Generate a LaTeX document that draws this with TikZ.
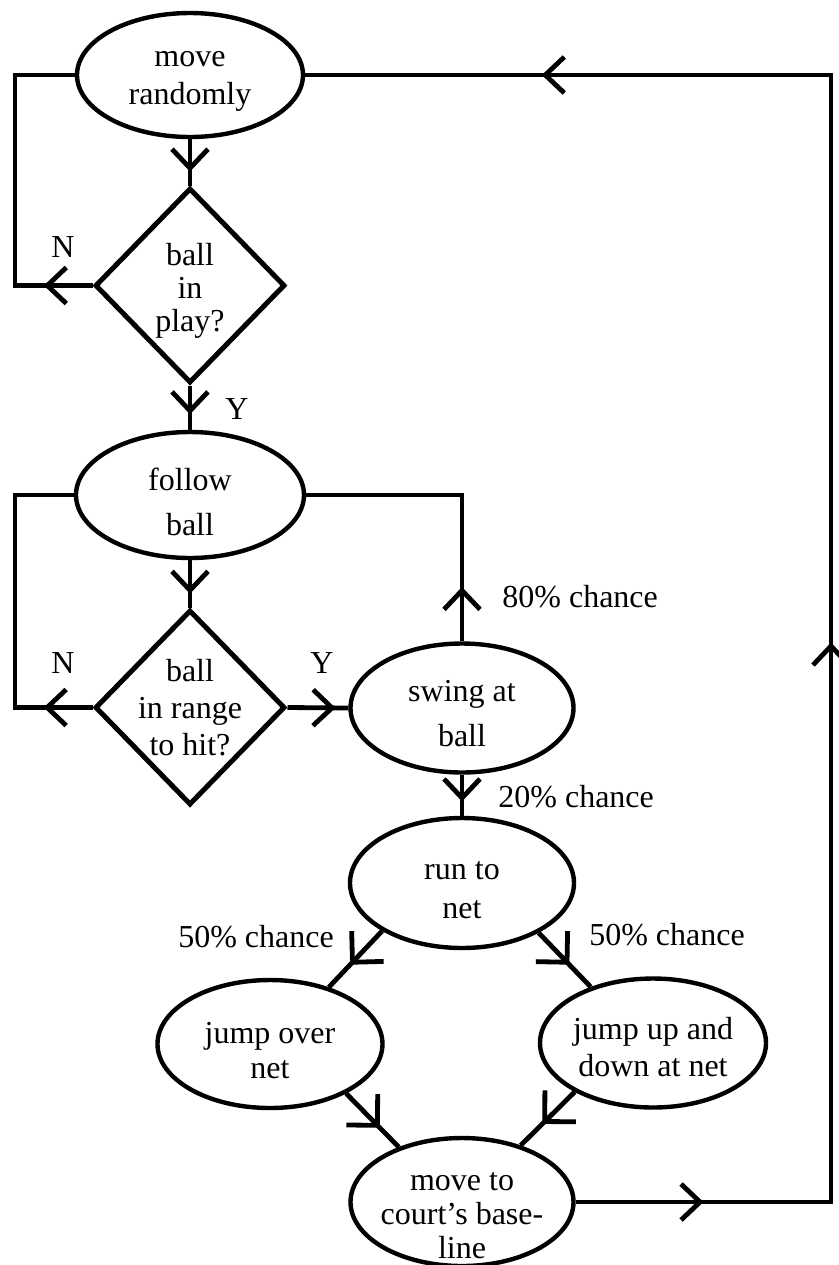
\documentclass[tikz,border=0pt]{standalone}
\usepackage{fontspec}
\setmainfont{Liberation Serif}
\usetikzlibrary{shapes.geometric,arrows.meta,decorations.markings}
\newcommand{\firstrow}[1]{\rule{0pt}{#1pt}}
\begin{document}
\begin{tikzpicture}[x=0.5pt, y=-0.5pt,
    every node/.style={font=\fontsize{16}{18.5}\selectfont, align=center},
    >={Straight Barb[length=9.5pt, width=18pt]},
    act/.style={ellipse, draw, line width=2.2pt, inner sep=-30pt},
    ask/.style={diamond, draw, line width=2.5pt, inner sep=-30pt, minimum width=95pt, minimum height=97.5pt},
    lbl/.style={inner sep=0pt},
    flow/.style={line width=2.4pt, decoration={markings, mark=at position #1 with {\arrow{>}}}, postaction={decorate}},
    slant/.style={line width=2.4pt, decoration={markings, mark=at position #1 with {\arrow{Straight Barb[length=11pt, width=22pt]}}}, postaction={decorate}}]
    \useasboundingbox (0,0) rectangle (839,1265);
    % steps and questions
    \node[act, minimum width=113pt, minimum height=62pt] (mr) at (190,75) {\firstrow{14}move\\[0.5pt]randomly};
    \node[ask, font=\fontsize{16}{16.5}\selectfont] (d1) at (190,285.5) {\firstrow{16}ball\\in\\play?};
    \node[act, minimum width=114pt, minimum height=63pt] (fb) at (190,495) {\firstrow{18}follow\\[4pt]ball};
    \node[ask] (d2) at (190,707.5) {ball\\in range\\to hit?};
    \node[act, minimum width=111.5pt, minimum height=64.5pt] (sw) at (462,708) {\firstrow{16}swing at\\[4pt]ball};
    \node[act, minimum width=112pt, minimum height=65pt] (rn) at (462,883) {\firstrow{16}run to\\[1pt]net};
    \node[act, minimum width=112.5pt, minimum height=64pt] (jo) at (270,1044) {\firstrow{17}jump over\\[-1pt]net};
    \node[act, minimum width=113pt, minimum height=64.5pt] (ju) at (653,1043) {\firstrow{15}jump up and\\down at net};
    \node[act, minimum width=111.5pt, minimum height=64pt, font=\fontsize{16}{17}\selectfont] (mc) at (462,1202) {\firstrow{23}move to\\court's base-\\line};
    \coordinate (lft) at (15,0);
    \coordinate (rgt) at (831,0);
    % connectors
    \foreach \a/\b/\p in {mr.south/d1.north/0.7, d1.south/fb.north/0.65, fb.south/d2.north/0.71, d2.east/sw.west/0.79, sw.south/rn.north/0.65}
      \draw[flow=\p] (\a) -- (\b);
    \draw[flow=0.14] (d1.west) -- (d1.west -| lft) |- (mr.west);
    \draw[flow=0.14] (d2.west) -- (d2.west -| lft) |- (fb.west);
    \draw[flow=0.18] (sw.north) |- (fb.east);
    \foreach \a/\b/\p in {rn.-149/jo.44/0.6, rn.-33/ju.138/0.59, jo.-33/mc.139/0.64, ju.-148/mc.44/0.6}
      \draw[slant=\p] (\a) -- (\b);
    \draw[line width=2.4pt, decoration={markings, mark=at position 0.067 with {\arrow{>}}, mark=at position 0.427 with {\arrow{>}}, mark=at position 0.876 with {\arrow{>}}}, postaction={decorate}] (mc.east) -- (mc.east -| rgt) |- (mr.east);
    % labels
    \node[lbl] (n1) at (63,247) {N};
    \node[lbl] (y1) at (237,409) {Y};
    \node[lbl] (n2) at (63,663) {N};
    \node[lbl] (y2) at (322,663) {Y};
    \node[lbl, anchor=west] (p80) at (502,597) {80\% chance};
    \node[lbl, anchor=west] (p20) at (498,797) {20\% chance};
    \node[lbl] (p50a) at (256,937) {50\% chance};
    \node[lbl] (p50b) at (667,935) {50\% chance};
\end{tikzpicture}
\end{document}
